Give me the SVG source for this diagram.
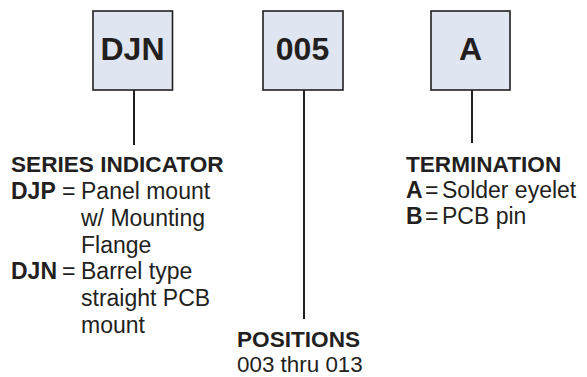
<svg xmlns="http://www.w3.org/2000/svg" width="587" height="377" viewBox="0 0 587 377">
<style>
.box{fill:#dfe6f2;stroke:#231f20;stroke-width:1.6}
.code{font-family:"Liberation Sans",Arial,sans-serif;font-weight:bold;font-size:32px;fill:#231f20;text-anchor:middle}
.h{font-family:"Liberation Sans",Arial,sans-serif;font-weight:bold;font-size:22.6px;fill:#231f20}
.t{font-family:"Liberation Sans",Arial,sans-serif;font-size:23px;fill:#231f20}
.b{font-weight:bold}
.conn{stroke:#231f20;stroke-width:2;fill:none}
</style>
<rect width="587" height="377" fill="#ffffff"/>
<g id="connectors">
<line class="conn" x1="134" y1="90" x2="134" y2="145"/>
<line class="conn" x1="304" y1="90" x2="304" y2="319"/>
<line class="conn" x1="472" y1="90" x2="472" y2="143"/>
</g>
<g id="node-djn">
<rect class="box" x="93" y="11" width="79.5" height="79"/>
<text class="code" x="132.5" y="60">DJN</text>
</g>
<g id="node-005">
<rect class="box" x="263" y="11" width="80" height="79"/>
<text class="code" x="302.5" y="60">005</text>
</g>
<g id="node-a">
<rect class="box" x="431" y="11" width="79" height="79"/>
<text class="code" x="470.5" y="60">A</text>
</g>
<g id="series-indicator">
<text class="h" x="11" y="171.7">SERIES INDICATOR</text>
<text class="t" y="199"><tspan class="b" x="11">DJP</tspan><tspan x="62">=</tspan><tspan x="81">Panel mount</tspan></text>
<text class="t" x="81" y="226">w/ Mounting</text>
<text class="t" x="81" y="252.7">Flange</text>
<text class="t" y="279.3"><tspan class="b" x="11">DJN</tspan><tspan x="62">=</tspan><tspan x="81">Barrel type</tspan></text>
<text class="t" x="81" y="306">straight PCB</text>
<text class="t" x="81" y="332.7">mount</text>
</g>
<g id="positions">
<text class="h" x="237" y="346.5">POSITIONS</text>
<text class="t" x="237" y="372" style="font-size:22.4px">003 thru 013</text>
</g>
<g id="termination">
<text class="h" x="406" y="171.7">TERMINATION</text>
<text class="t" y="198.3"><tspan class="b" x="406">A</tspan><tspan x="425">=</tspan><tspan x="442">Solder eyelet</tspan></text>
<text class="t" y="224.3"><tspan class="b" x="406">B</tspan><tspan x="425">=</tspan><tspan x="442">PCB pin</tspan></text>
</g>
</svg>
